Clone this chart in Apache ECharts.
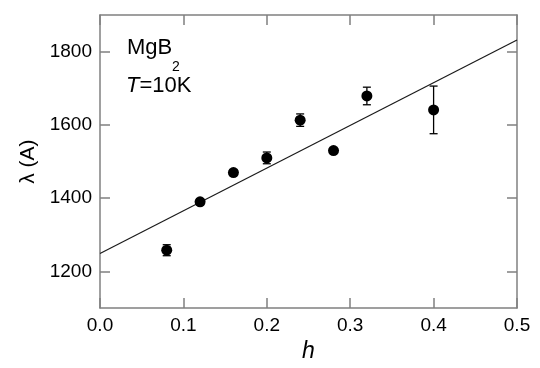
<!DOCTYPE html>
<html>
<head>
<meta charset="utf-8">
<script src="https://cdn.jsdelivr.net/npm/echarts@6/dist/echarts.min.js"></script>
<style>
  html, body { margin: 0; padding: 0; background: #fff; }
  #chart { width: 540px; height: 368px; }
</style>
</head>
<body>
<div id="chart"></div>
<script>
// penetration depth vs h, MgB2 at 10K
let hVals = [0.08, 0.12, 0.16, 0.20, 0.24, 0.28, 0.32, 0.40];
let lambdaVals = [1258, 1390, 1470, 1510, 1613, 1530, 1679, 1641];
let errVals = [15, 8, 8, 16, 17, 6, 24, 65];

// linear fit
let fitH = [0, 0.5];
let fitLambda = [1249, 1832];

let yTicks = [1200, 1400, 1600, 1800];
let xMin = 0, xMax = 0.5, yMin = 1100, yMax = 1900;

let font = 'Liberation Sans, Arial, Helvetica, sans-serif';
let axisGray = '#808080';

let points = hVals.map(function (h, i) { return [h, lambdaVals[i]]; });
let errData = hVals.map(function (h, i) { return [h, lambdaVals[i], errVals[i]]; });
let fitData = fitH.map(function (h, i) { return [h, fitLambda[i]]; });

function renderErr(params, api) {
  let x = api.value(0), y = api.value(1), e = api.value(2);
  let lo = api.coord([x, y - e]);
  let hi = api.coord([x, y + e]);
  let w = 4;
  let st = { stroke: '#000', lineWidth: 1.3 };
  return {
    type: 'group',
    children: [
      { type: 'line', shape: { x1: lo[0], y1: lo[1], x2: hi[0], y2: hi[1] }, style: st },
      { type: 'line', shape: { x1: lo[0] - w, y1: lo[1], x2: lo[0] + w, y2: lo[1] }, style: st },
      { type: 'line', shape: { x1: hi[0] - w, y1: hi[1], x2: hi[0] + w, y2: hi[1] }, style: st }
    ]
  };
}

function axLine() {
  // onZero off, otherwise the right y axis sits on h=0
  return { show: true, onZero: false, lineStyle: { color: axisGray, width: 1.5 } };
}
function makeTick(custom) {
  let t = { show: true, inside: true, length: 10, lineStyle: { color: axisGray, width: 1.5 } };
  if (custom) t.customValues = custom;
  return t;
}

let option = {
  animation: false,
  backgroundColor: '#fff',
  textStyle: { fontFamily: font },
  grid: { left: 100, right: 23, top: 15, bottom: 57 },
  xAxis: [{
    type: 'value', min: xMin, max: xMax, interval: 0.1,
    position: 'bottom',
    name: 'h', nameLocation: 'middle', nameGap: 30,
    nameTextStyle: { fontSize: 23, fontStyle: 'italic', color: '#000', fontFamily: font },
    axisLine: axLine(),
    axisTick: makeTick(),
    axisLabel: { fontSize: 19, color: '#000', margin: 8, fontFamily: font,
      formatter: function (v) { return v.toFixed(1); } },
    splitLine: { show: false }
  }, {
    type: 'value', min: xMin, max: xMax, interval: 0.1,
    position: 'top',
    axisLine: axLine(),
    axisTick: makeTick(),
    axisLabel: { show: false },
    splitLine: { show: false }
  }],
  yAxis: [{
    type: 'value', min: yMin, max: yMax,
    position: 'left',
    name: 'λ (A)', nameLocation: 'middle', nameRotate: 90, nameGap: 60,
    nameTextStyle: { fontSize: 21, color: '#000', fontFamily: font },
    axisLine: axLine(),
    axisTick: makeTick(yTicks),
    axisLabel: { customValues: yTicks, fontSize: 19, color: '#000', margin: 8, fontFamily: font,
      formatter: function (v) { return String(v); } },
    splitLine: { show: false }
  }, {
    type: 'value', min: yMin, max: yMax,
    position: 'right',
    axisLine: axLine(),
    axisTick: makeTick(yTicks),
    axisLabel: { show: false },
    splitLine: { show: false }
  }],
  graphic: [
    { type: 'text', left: 127, top: 37, style: { text: 'MgB', fill: '#000', font: '22px ' + font } },
    { type: 'text', left: 172, top: 60, style: { text: '2', fill: '#000', font: '14px ' + font } },
    { type: 'text', left: 126, top: 75, style: { text: '{i|T}=10K', fill: '#000', font: '22px ' + font,
      rich: { i: { fontStyle: 'italic', fontSize: 22, fontFamily: font } } } }
  ],
  series: [{
    type: 'line',
    data: fitData,
    showSymbol: false,
    lineStyle: { color: '#1a1a1a', width: 1.2 },
    z: 2
  }, {
    type: 'custom',
    data: errData,
    renderItem: renderErr,
    z: 3
  }, {
    type: 'scatter',
    data: points,
    symbol: 'circle',
    symbolSize: 11,
    itemStyle: { color: '#000', opacity: 1 },
    z: 4
  }]
};

let chart = echarts.init(document.getElementById('chart'));
chart.setOption(option);
</script>
</body>
</html>
